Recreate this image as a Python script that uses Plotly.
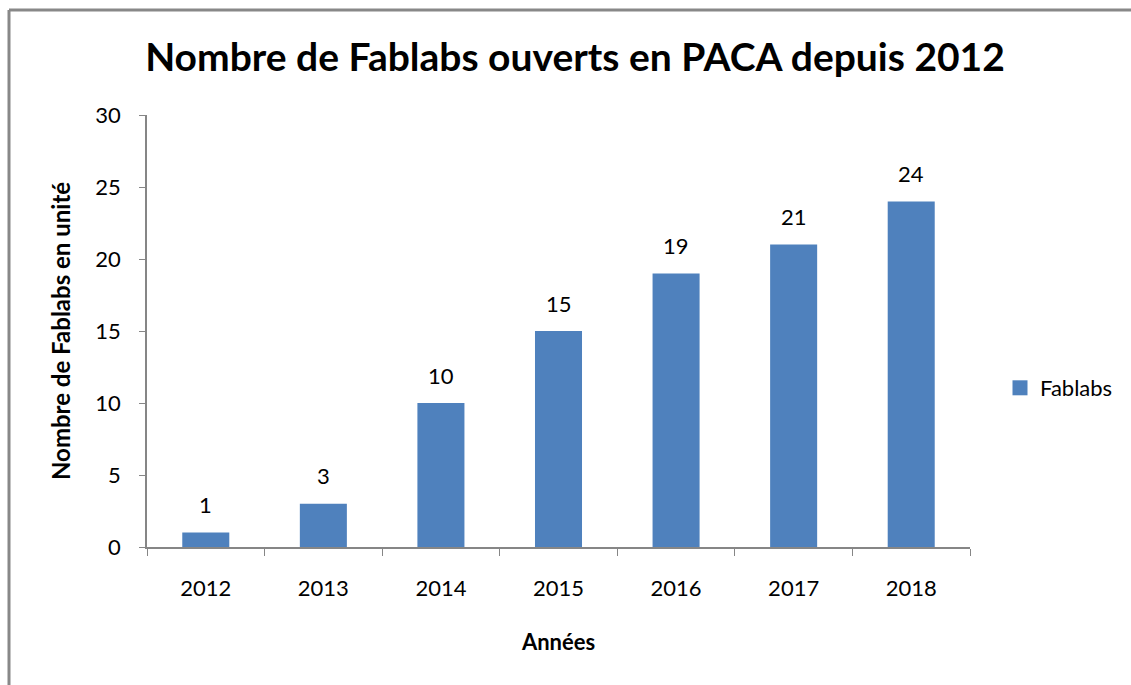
import plotly.graph_objects as go

# Nombre de Fablabs ouverts par année en région PACA
annees = ["2012", "2013", "2014", "2015", "2016", "2017", "2018"]
fablabs = [1, 3, 10, 15, 19, 21, 24]
y_ticks = [0, 5, 10, 15, 20, 25, 30]

FONT = "Lato, 'Open Sans', sans-serif"
BLEU = "#4F81BD"
AXE = "#868686"

W, H = 1131, 685
L, R, T, B = 147, 161, 115, 138
pw, ph = W - L - R, H - T - B


def px_x(x):
    return (x - L) / pw


def px_y(y):
    return 1 - (y - T) / ph


fig = go.Figure()
fig.add_trace(go.Bar(
    x=annees,
    y=fablabs,
    name="Fablabs",
    marker=dict(color=BLEU, line=dict(width=0)),
    width=0.4,
    showlegend=False,
))

# Entrée de légende (carré bleu)
fig.add_trace(go.Scatter(
    x=annees[:1], y=[None],
    mode="markers",
    name="Fablabs",
    marker=dict(symbol="square", size=15, color=BLEU),
    showlegend=True,
    hoverinfo="skip",
))

# Étiquettes de valeur au-dessus des barres (position par indice de catégorie)
for i, v in enumerate(fablabs):
    fig.add_annotation(
        x=i, y=v, text=str(v), showarrow=False,
        xref="x", yref="y",
        yanchor="middle", yshift=28,
        font=dict(family=FONT, size=22, color="#000"),
    )

fig.update_layout(
    width=W,
    height=H,
    margin=dict(l=L, r=R, t=T, b=B, pad=0, autoexpand=False),
    paper_bgcolor="white",
    plot_bgcolor="white",
    font=dict(family=FONT, color="#000"),
    title=dict(
        text="<b>Nombre de Fablabs ouverts en PACA depuis 2012</b>",
        font=dict(family=FONT, size=39, color="#000"),
        x=575 / W, xanchor="center",
        y=1 - 57 / H, yanchor="middle",
    ),
    xaxis=dict(
        type="category",
        categoryorder="array", categoryarray=annees,
        range=[-0.5, len(annees) - 0.5],
        automargin=False,
        showgrid=False,
        showline=True, linecolor=AXE, linewidth=1.5,
        ticks="outside", tickson="boundaries", ticklen=7, tickcolor=AXE,
        tickfont=dict(family=FONT, size=22),
        tickangle=0,
        ticklabelstandoff=21,
        title=dict(text="<b>Années</b>", font=dict(family=FONT, size=22), standoff=34),
    ),
    yaxis=dict(
        range=[0, 30],
        tickvals=y_ticks,
        automargin=False,
        showgrid=False, zeroline=False,
        showline=True, linecolor=AXE, linewidth=1.5,
        ticks="outside", ticklen=6, tickcolor=AXE,
        tickfont=dict(family=FONT, size=22),
        ticklabelstandoff=14,
        title=dict(text="<b>Nombre de Fablabs en unité</b>", font=dict(family=FONT, size=24), standoff=18),
    ),
    legend=dict(
        x=px_x(1000), y=px_y(388), xanchor="left", yanchor="middle",
        font=dict(family=FONT, size=22),
        itemwidth=30,
    ),
)

# Cadre gris autour du graphique
fig.add_shape(type="line", xref="paper", yref="paper",
              x0=px_x(9), x1=px_x(W + 5), y0=px_y(10), y1=px_y(10),
              line=dict(color="#888888", width=3))
fig.add_shape(type="line", xref="paper", yref="paper",
              x0=px_x(9), x1=px_x(9), y0=px_y(10), y1=px_y(H + 5),
              line=dict(color="#888888", width=3))

fig.write_html("out.html")
